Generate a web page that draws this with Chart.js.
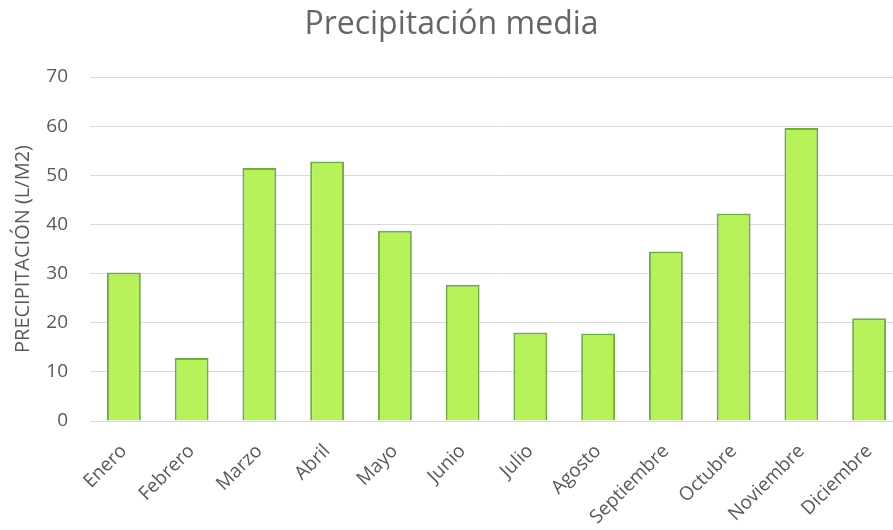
<!DOCTYPE html>
<html>
<head>
<meta charset="utf-8">
<script src="https://cdn.jsdelivr.net/npm/chart.js@4"></script>
<style>
    html, body { margin: 0; padding: 0; background: #fff; overflow: hidden; }
    #wrap { width: 905px; height: 530px; }
</style>
</head>
<body>
<div id="wrap"><canvas id="graph"></canvas></div>
<script>
const meses = ['Enero', 'Febrero', 'Marzo', 'Abril', 'Mayo', 'Junio', 'Julio',
    'Agosto', 'Septiembre', 'Octubre', 'Noviembre', 'Diciembre'];
const precipitacion = [30.2, 12.8, 51.5, 52.8, 38.7, 27.7, 18.0, 17.8, 34.5, 42.2, 59.6, 20.9];
const yTicks = [0, 10, 20, 30, 40, 50, 60, 70];

const gris = '#595959';
Chart.defaults.font.family = '"Open Sans", Lato, sans-serif';
Chart.defaults.color = gris;

new Chart(
    document.querySelector('#graph'),
{
    type: 'bar',
    data: {
        labels: meses,
        datasets: [{
            label: 'Precipitación',
            data: precipitacion,
            backgroundColor: '#b7f25a',
            borderColor: '#70ad47',
            borderWidth: 2,
            barPercentage: 0.5,
            categoryPercentage: 1
        }]
    },
    options: {
        responsive: true,
        maintainAspectRatio: false,
        animation: false,
        layout: {
            padding: {left: 0, right: 2, top: 0, bottom: 0}
        },
        plugins: {
            legend: {display: false},
            tooltip: {enabled: false},
            title: {
                display: true,
                text: 'Precipitación media',
                color: '#666666',
                font: {size: 32, weight: 'normal'},
                padding: {top: 6, bottom: 32.6}
            }
        },
        scales: {
            x: {
                grid: {display: false, drawTicks: false},
                border: {display: true, color: '#d9d9d9', width: 1},
                ticks: {
                    autoSkip: false,
                    maxRotation: 45,
                    minRotation: 45,
                    padding: 19,
                    color: gris,
                    font: {size: 19}
                },
                afterFit: function(scale) { scale.height = 109; }
            },
            y: {
                min: 0,
                max: 70,
                afterBuildTicks: function(scale) {
                    scale.ticks = yTicks.map(v => ({value: v}));
                },
                grid: {color: '#d9d9d9', lineWidth: 1, drawTicks: false},
                border: {display: false},
                ticks: {
                    padding: 22,
                    color: gris,
                    font: {size: 19}
                },
                title: {
                    display: true,
                    text: 'PRECIPITACIÓN (L/M2)',
                    color: gris,
                    font: {size: 20},
                    padding: {top: 11, bottom: 0}
                },
                afterFit: function(scale) { scale.width = 90; }
            }
        }
    }
});
</script>
</body>
</html>
